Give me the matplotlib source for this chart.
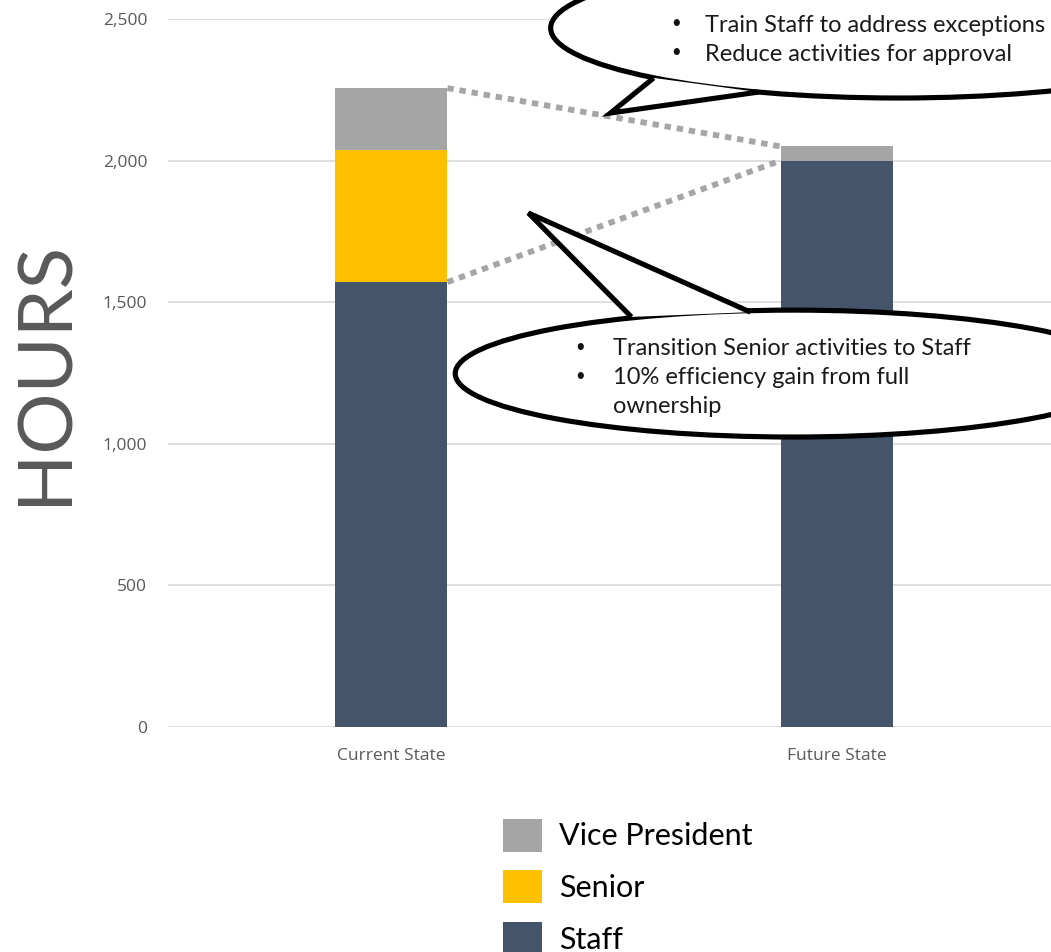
import numpy as np
import matplotlib
matplotlib.use('Agg')
import matplotlib.pyplot as plt
from matplotlib.patches import Ellipse, Polygon, Patch

# data
categories = ['Current State', 'Future State']
staff = [1571, 2000]
senior = [466, 0]
vice_president = [219, 50]
series_names = ['Vice President', 'Senior', 'Staff']
colors = {'Staff': '#44546A', 'Senior': '#FFC000', 'Vice President': '#A5A5A5'}
yticks = [0, 500, 1000, 1500, 2000, 2500]

# callouts: ellipse (center, width, height) and tail (base, tip, base) in data units
callout_top = dict(center=(1.138, 2468), width=1.56, height=494,
                   tail=[(0.589, 2292), (0.492, 2168), (0.824, 2242)],
                   lines=['Train Staff to address exceptions', 'Reduce activities for approval'])
callout_bottom = dict(center=(0.902, 1248), width=1.516, height=448,
                      tail=[(0.539, 1448), (0.308, 1815), (0.806, 1465)],
                      lines=['Transition Senior activities to Staff',
                             '10% efficiency gain from full\nownership'])

plt.rcParams['font.family'] = ['Open Sans', 'DejaVu Sans']

fig = plt.figure(figsize=(10.51, 9.52), dpi=100)
ax = fig.add_axes([168 / 1051, 1 - 727 / 952, 892 / 1051, (727 - 19) / 952])

x = np.arange(len(categories))
w = 0.253
ax.bar(x, staff, w, color=colors['Staff'], zorder=2)
ax.bar(x, senior, w, bottom=staff, color=colors['Senior'], zorder=2)
bot3 = np.array(staff) + np.array(senior)
ax.bar(x, vice_president, w, bottom=bot3, color=colors['Vice President'], zorder=2)

ax.set_xlim(-0.5, 1.5)
ax.set_ylim(0, 2500)
ax.set_yticks(yticks)
ax.set_yticklabels([f'{v:,}' for v in yticks])
ax.set_xticks(x)
ax.set_xticklabels(categories)
ax.tick_params(axis='y', length=0, pad=15, labelsize=12.5, labelcolor='#595959')
ax.tick_params(axis='x', length=0, pad=15, labelsize=12.5, labelcolor='#595959')
for s in ax.spines.values():
    s.set_visible(False)
ax.grid(axis='y', color='#D9D9D9', linewidth=1.2, zorder=0)
ax.set_axisbelow(True)

# dotted connectors between bar tops
tot = np.array(staff) + np.array(senior) + np.array(vice_president)
for ys in ([tot[0], tot[1]], [staff[0], staff[1]]):
    ax.plot([x[0] + w / 2, x[1] - w / 2], ys, color='#A6A6A6',
            linewidth=4.2, linestyle=(0, (1.1, 1.0)), dash_capstyle='butt', zorder=3)


def draw_callout(c, bullet_x, text_x, top_y, step):
    e = Ellipse(c['center'], c['width'], c['height'], facecolor='white',
                edgecolor='black', linewidth=3.7, zorder=5, clip_on=False)
    ax.add_patch(e)
    t = Polygon(c['tail'], closed=False, facecolor='white', edgecolor='black',
                linewidth=3.7, zorder=6, clip_on=False, joinstyle='miter')
    ax.add_patch(t)
    y = top_y
    for line in c['lines']:
        ax.text(bullet_x, y, '•', fontsize=12, color='#111111', va='center',
                ha='center', zorder=7, clip_on=False, family=['Lato', 'DejaVu Sans'])
        for part in line.split('\n'):
            ax.text(text_x, y, part, fontsize=17, color='#1a1a1a', va='center_baseline',
                    ha='left', zorder=7, clip_on=False, family=['Lato', 'DejaVu Sans'])
            y -= step


draw_callout(callout_top, 0.639, 0.705, 2485, 102.4)
draw_callout(callout_bottom, 0.424, 0.497, 1342, 102.4)

fig.text(45 / 1051, 1 - 372 / 952, 'HOURS', rotation=90, ha='center', va='center',
         fontsize=55, color='#595959', family=['Lato', 'DejaVu Sans'])

handles = [Patch(facecolor=colors[n], edgecolor='none') for n in series_names]
fig.legend(handles, series_names, loc='upper left', bbox_to_anchor=(475 / 1051, 1 - 791 / 952),
           frameon=False, handlelength=1.3, handleheight=1.3,
           labelspacing=0.6, handletextpad=0.55, prop={'family': ['Lato', 'DejaVu Sans'], 'size': 22})

fig.savefig('out.png', dpi=100)
